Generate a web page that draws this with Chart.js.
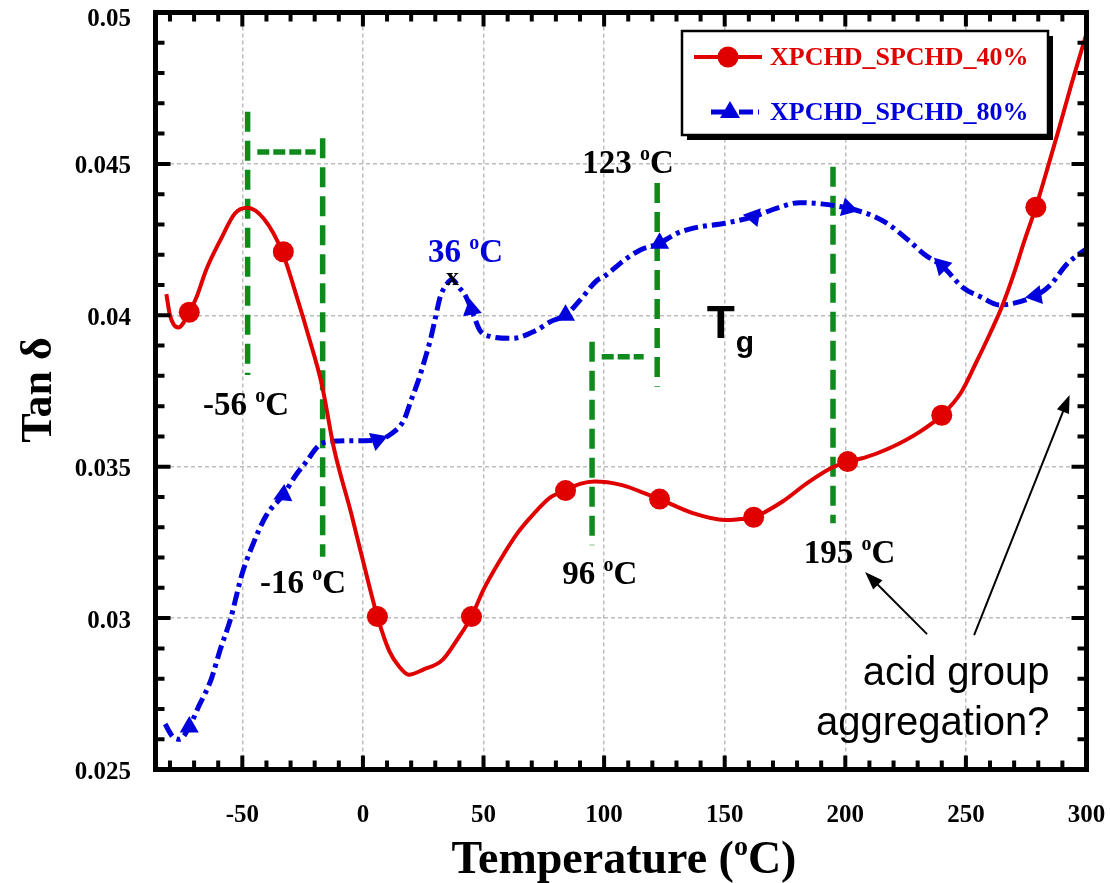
<!DOCTYPE html>
<html>
<head>
<meta charset="utf-8">
<script src="https://cdn.jsdelivr.net/npm/chart.js@4.4.1/dist/chart.umd.min.js"></script>
<style>
html, body { margin: 0; padding: 0; background: #fff; }
</style>
</head>
<body>
<canvas id="myChart" width="1110" height="883"></canvas>
<script>
// curve samples
const redX = [-81.5, -80, -78.5, -76.5, -72, -69, -65, -59, -53, -48, -41, -33.5, -27, -22.5, -17, -12, -5, 0, 6, 11, 15, 19, 25, 33, 39, 45, 50, 57, 64, 71, 78, 84, 90, 96, 107, 115, 123, 137, 150, 155, 162, 174, 184, 194, 201, 208, 218, 231, 240, 248, 254, 260, 265, 270, 274, 279, 284, 288, 294, 300];
const redY = [0.0407, 0.0400, 0.0397, 0.0396, 0.0401, 0.0406, 0.0415, 0.0425, 0.04337, 0.04355, 0.04318, 0.0421, 0.0405, 0.0393, 0.0377, 0.0356, 0.0335, 0.0319, 0.03005, 0.0289, 0.0284, 0.02813, 0.0283, 0.02862, 0.02928, 0.03005, 0.03094, 0.03193, 0.0328, 0.03346, 0.0340, 0.03421, 0.03443, 0.03451, 0.0344, 0.03418, 0.03393, 0.03346, 0.03324, 0.03326, 0.03333, 0.03385, 0.03445, 0.03495, 0.03517, 0.0353, 0.0356, 0.03616, 0.0367, 0.03745, 0.0384, 0.0394, 0.0403, 0.0414, 0.0424, 0.04357, 0.0449, 0.0460, 0.0477, 0.0493];
const blueX = [-82, -79, -76, -72, -68, -63, -59, -55, -50, -46, -40, -33, -28, -24, -17, -10, 0, 6, 12, 17, 20, 23, 25.5, 28, 30, 32, 34.5, 37, 40, 42, 45, 48.5, 53, 62, 72, 78, 84, 90, 97, 100, 108, 115, 123, 130, 137, 150, 162, 172, 181, 190, 201, 211, 218, 226, 233, 240, 249, 256, 264, 270, 279, 285, 292, 300];
const blueY = [0.0265, 0.0261, 0.0260, 0.0264, 0.0271, 0.02796, 0.0290, 0.02994, 0.03149, 0.03236, 0.0334, 0.03407, 0.0347, 0.03511, 0.03577, 0.03585, 0.03586, 0.03588, 0.0361, 0.03654, 0.0372, 0.03785, 0.0385, 0.0392, 0.0399, 0.0406, 0.0410, 0.04118, 0.0409, 0.04072, 0.0402, 0.0395, 0.0393, 0.03924, 0.03951, 0.0398, 0.0400, 0.0405, 0.04115, 0.04128, 0.0418, 0.04216, 0.04238, 0.0427, 0.04288, 0.04304, 0.04326, 0.04355, 0.04372, 0.04368, 0.04354, 0.0433, 0.0430, 0.04249, 0.0420, 0.04164, 0.0409, 0.04061, 0.04034, 0.0404, 0.04065, 0.0410, 0.0417, 0.0422];

// symbols
const markX = [-72, -33, 6, 45, 84, 123, 162, 201, 240, 279];
const redMarkY = [0.0401, 0.0421, 0.03005, 0.03005, 0.03421, 0.03393, 0.03333, 0.03517, 0.0367, 0.04357];
const blueMarkY = [0.0264, 0.03407, 0.03588, 0.0402, 0.0400, 0.04238, 0.04326, 0.04354, 0.04164, 0.04065];
const triRotation = [0, 5, 70, -10, -120, -120, -80, -15, -45, -100];

const seriesNames = ['XPCHD_SPCHD_40%', 'XPCHD_SPCHD_80%'];
const xTickVals = [-50, 0, 50, 100, 150, 200, 250, 300];
const xTickLabels = ['-50', '0', '50', '100', '150', '200', '250', '300'];
const yTickVals = [0.025, 0.03, 0.035, 0.04, 0.045, 0.05];
const yTickLabels = ['0.025', '0.03', '0.035', '0.04', '0.045', '0.05'];

// green Tg guides: [x, yLow, yHigh] and [y, xFrom, xTo]
const greenV = [[-47.8, 0.03803, 0.04672], [-16.7, 0.03203, 0.04585], [95.0, 0.03241, 0.03913], [122.0, 0.03764, 0.04437], [194.9, 0.03313, 0.04491]];
const greenH = [[0.04539, -43.8, -19.6], [0.03863, 99.0, 116.4]];

// temperature notes: [text, x, baseline y, colour]
const tempNotes = [['-56 ', -66.3, 0.03671, '#000'], ['-16 ', -42.7, 0.03083, '#000'], ['96 ', 82.6, 0.03112, '#000'], ['195 ', 182.8, 0.03182, '#000'], ['123 ', 90.9, 0.0447, '#000'], ['36 ', 27.0, 0.04176, '#0000dc']];
const arrows = [[233.9, 0.02947, 208.2, 0.03152], [253.4, 0.02944, 293.0, 0.03737]];

const RED = '#e00000';
const BLUE = '#0000dc';
const GREEN = '#0f8a1c';
const SERIF = '"Liberation Serif", "Times New Roman", serif';
const SANS = '"Liberation Sans", Arial, sans-serif';

function degText(ctx, pre, x, y, size, color, post) {
    const sup = Math.round(size * 0.6);
    ctx.fillStyle = color;
    ctx.textBaseline = 'alphabetic';
    ctx.textAlign = 'left';
    ctx.font = 'bold ' + size + 'px ' + SERIF;
    ctx.fillText(pre, x, y);
    x += ctx.measureText(pre).width;
    ctx.font = 'bold ' + sup + 'px ' + SERIF;
    ctx.fillText('o', x, y - size * 0.4);
    x += ctx.measureText('o').width;
    ctx.font = 'bold ' + size + 'px ' + SERIF;
    ctx.fillText('C' + (post || ''), x, y);
}

function degWidth(ctx, pre, size, post) {
    ctx.font = 'bold ' + size + 'px ' + SERIF;
    let w = ctx.measureText(pre + 'C' + (post || '')).width;
    ctx.font = 'bold ' + Math.round(size * 0.6) + 'px ' + SERIF;
    return w + ctx.measureText('o').width;
}

const decor = {
    id: 'decor',
    beforeDatasetsDraw(chart) {
        const ctx = chart.ctx;
        const x = chart.scales.x, y = chart.scales.y;
        ctx.save();
        ctx.strokeStyle = GREEN;
        ctx.lineWidth = 5.5;
        ctx.setLineDash([20, 9]);
        greenV.forEach(g => {
            ctx.beginPath();
            ctx.moveTo(x.getPixelForValue(g[0]), y.getPixelForValue(g[2]));
            ctx.lineTo(x.getPixelForValue(g[0]), y.getPixelForValue(g[1]));
            ctx.stroke();
        });
        ctx.setLineDash([12, 4]);
        greenH.forEach(g => {
            ctx.beginPath();
            ctx.moveTo(x.getPixelForValue(g[1]), y.getPixelForValue(g[0]));
            ctx.lineTo(x.getPixelForValue(g[2]), y.getPixelForValue(g[0]));
            ctx.stroke();
        });
        ctx.restore();
    },
    afterDraw(chart) {
        const ctx = chart.ctx;
        const x = chart.scales.x, y = chart.scales.y;
        const a = chart.chartArea;
        ctx.save();

        // frame + ticks on all four sides
        ctx.strokeStyle = '#000';
        ctx.lineWidth = 5;
        ctx.strokeRect(a.left, a.top, a.right - a.left, a.bottom - a.top);
        ctx.lineWidth = 4;
        for (let v = -80; v < 300; v += 10) {
            const px = x.getPixelForValue(v);
            const len = v % 50 === 0 ? 14 : 9;
            ctx.beginPath();
            ctx.moveTo(px, a.bottom); ctx.lineTo(px, a.bottom - len);
            ctx.moveTo(px, a.top); ctx.lineTo(px, a.top + len);
            ctx.stroke();
        }
        for (let k = 26; k < 50; k++) {
            const py = y.getPixelForValue(k / 1000);
            const len = k % 5 === 0 ? 15 : 9;
            ctx.beginPath();
            ctx.moveTo(a.left, py); ctx.lineTo(a.left + len, py);
            ctx.moveTo(a.right, py); ctx.lineTo(a.right - len, py);
            ctx.stroke();
        }

        // tick labels
        ctx.fillStyle = '#000';
        ctx.font = 'bold 25px ' + SERIF;
        ctx.textBaseline = 'middle';
        ctx.textAlign = 'center';
        xTickVals.forEach((v, i) => ctx.fillText(xTickLabels[i], x.getPixelForValue(v), 816));
        ctx.textAlign = 'right';
        yTickVals.forEach((v, i) => ctx.fillText(yTickLabels[i], 131, y.getPixelForValue(v) + (i === yTickVals.length - 1 ? 7 : 3)));

        // notes
        tempNotes.forEach(n => degText(ctx, n[0], x.getPixelForValue(n[1]), y.getPixelForValue(n[2]), 33, n[3]));
        ctx.fillStyle = '#000';
        ctx.font = 'bold 26px ' + SERIF;
        ctx.fillText('x', x.getPixelForValue(34.4), y.getPixelForValue(0.041));
        ctx.font = 'bold 46px ' + SANS;
        ctx.fillText('T', x.getPixelForValue(142.6), y.getPixelForValue(0.03925));
        ctx.font = 'bold 30px ' + SANS;
        ctx.fillText('g', x.getPixelForValue(154.6), y.getPixelForValue(0.03879));
        ctx.font = '40px ' + SANS;
        ctx.textAlign = 'right';
        ctx.fillText('acid group', x.getPixelForValue(284.7), y.getPixelForValue(0.02779));
        ctx.fillText('aggregation?', x.getPixelForValue(284.7), y.getPixelForValue(0.02614));

        // arrows
        ctx.lineWidth = 2;
        arrows.forEach(r => {
            const x1 = x.getPixelForValue(r[0]), y1 = y.getPixelForValue(r[1]);
            const x2 = x.getPixelForValue(r[2]), y2 = y.getPixelForValue(r[3]);
            const ang = Math.atan2(y2 - y1, x2 - x1);
            ctx.beginPath();
            ctx.moveTo(x1, y1); ctx.lineTo(x2 - 12 * Math.cos(ang), y2 - 12 * Math.sin(ang));
            ctx.stroke();
            ctx.beginPath();
            ctx.moveTo(x2, y2);
            ctx.lineTo(x2 - 18 * Math.cos(ang) + 6.5 * Math.sin(ang), y2 - 18 * Math.sin(ang) - 6.5 * Math.cos(ang));
            ctx.lineTo(x2 - 18 * Math.cos(ang) - 6.5 * Math.sin(ang), y2 - 18 * Math.sin(ang) + 6.5 * Math.cos(ang));
            ctx.closePath();
            ctx.fill();
        });

        // legend
        ctx.fillStyle = '#000';
        ctx.fillRect(687, 36, 366, 104);
        ctx.fillStyle = '#fff';
        ctx.fillRect(682, 31, 366, 104);
        ctx.lineWidth = 2.5;
        ctx.strokeRect(682, 31, 366, 104);
        ctx.lineWidth = 4;
        ctx.strokeStyle = RED;
        ctx.beginPath(); ctx.moveTo(694, 57); ctx.lineTo(762, 57); ctx.stroke();
        ctx.fillStyle = RED;
        ctx.beginPath(); ctx.arc(728, 57, 10.5, 0, Math.PI * 2); ctx.fill();
        ctx.strokeStyle = BLUE;
        ctx.lineWidth = 5;
        ctx.setLineDash([14, 5, 4, 5]);
        ctx.beginPath(); ctx.moveTo(711, 112); ctx.lineTo(759, 112); ctx.stroke();
        ctx.setLineDash([]);
        ctx.fillStyle = BLUE;
        ctx.beginPath(); ctx.moveTo(730, 101); ctx.lineTo(740, 118); ctx.lineTo(720, 118); ctx.closePath(); ctx.fill();
        ctx.font = 'bold 26px ' + SERIF;
        ctx.textAlign = 'left';
        ctx.textBaseline = 'middle';
        ctx.fillStyle = RED;
        ctx.fillText(seriesNames[0], 770, 58);
        ctx.fillStyle = BLUE;
        ctx.fillText(seriesNames[1], 770, 113);

        // axis titles
        const tw = degWidth(ctx, 'Temperature (', 46, ')');
        degText(ctx, 'Temperature (', (a.left + a.right) / 2 - tw / 2 + 3, 873, 46, '#000', ')');
        ctx.translate(40, 390);
        ctx.rotate(-Math.PI / 2);
        ctx.textAlign = 'center';
        ctx.textBaseline = 'middle';
        ctx.fillStyle = '#000';
        ctx.font = 'bold 44px ' + SERIF;
        ctx.fillText('Tan \u03b4', 0, 0);
        ctx.restore();
    }
};

const ctx = document.getElementById('myChart').getContext('2d');
const myChart = new Chart(ctx, {
    type: 'line',
    data: {
        datasets: [
            {
                label: seriesNames[0],
                data: redX.map((v, i) => ({ x: v, y: redY[i] })),
                borderColor: RED,
                borderWidth: 4,
                pointRadius: 0,
                cubicInterpolationMode: 'monotone'
            },
            {
                label: seriesNames[0] + ' symbols',
                data: markX.map((v, i) => ({ x: v, y: redMarkY[i] })),
                showLine: false,
                pointStyle: 'circle',
                pointRadius: 10.5,
                backgroundColor: RED,
                borderColor: RED,
                borderWidth: 0
            },
            {
                label: seriesNames[1],
                data: blueX.map((v, i) => ({ x: v, y: blueY[i] })),
                borderColor: BLUE,
                borderWidth: 5,
                borderDash: [14, 5, 4, 5],
                pointRadius: 0,
                cubicInterpolationMode: 'monotone'
            },
            {
                label: seriesNames[1] + ' symbols',
                data: markX.map((v, i) => ({ x: v, y: blueMarkY[i] })),
                showLine: false,
                pointStyle: 'triangle',
                pointRadius: 11,
                pointRotation: triRotation,
                backgroundColor: BLUE,
                borderColor: BLUE,
                borderWidth: 0
            }
        ]
    },
    options: {
        responsive: false,
        animation: false,
        devicePixelRatio: 1,
        layout: { padding: { left: 0, top: 12.5, right: 23.5, bottom: 0 } },
        plugins: { legend: { display: false }, tooltip: { enabled: false } },
        scales: {
            x: {
                type: 'linear',
                min: -86,
                max: 300,
                afterFit: s => { s.height = 113.5; },
                border: { display: false, dash: [4, 3] },
                grid: { color: '#bdbdbd', lineWidth: 1.5, drawTicks: false },
                ticks: { stepSize: 50, includeBounds: false, display: false }
            },
            y: {
                min: 0.025,
                max: 0.05,
                afterFit: s => { s.width = 155.5; },
                border: { display: false, dash: [4, 3] },
                grid: { color: '#bdbdbd', lineWidth: 1.5, drawTicks: false },
                ticks: { stepSize: 0.005, includeBounds: false, display: false }
            }
        }
    },
    plugins: [decor]
});
</script>
</body>
</html>
